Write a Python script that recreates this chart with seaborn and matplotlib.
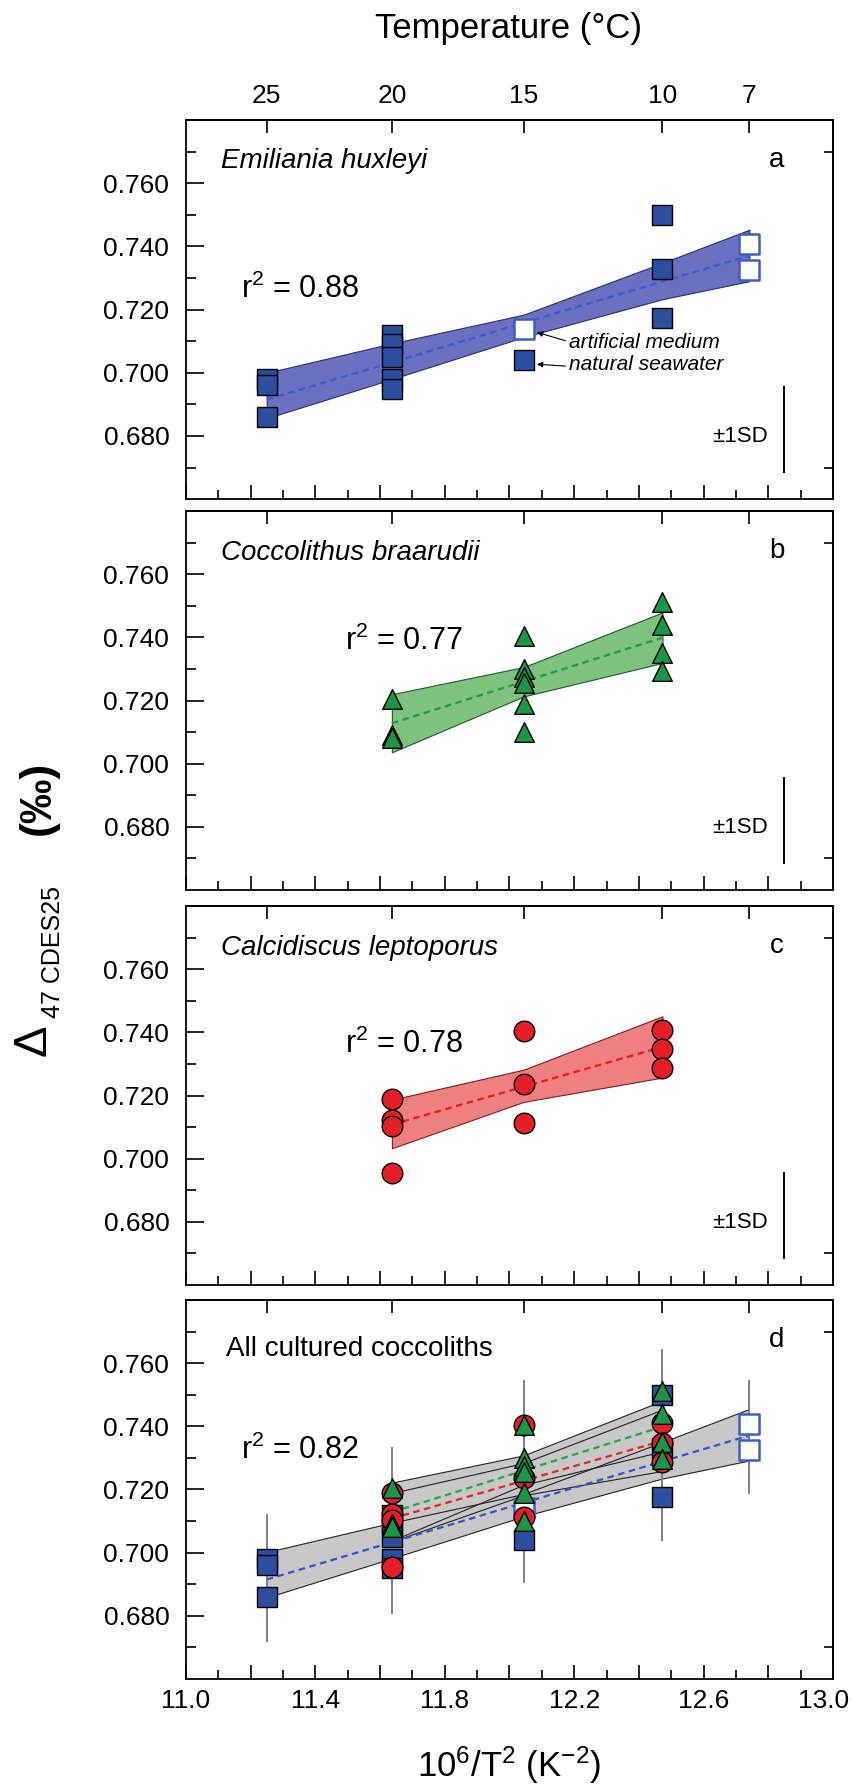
"""
Clumped isotope (D47) vs growth temperature for cultured coccoliths.
Four stacked panels: E. huxleyi, C. braarudii, C. leptoporus and all together.
"""

import numpy as np
import pandas as pd
import matplotlib
matplotlib.use("Agg")
import matplotlib.pyplot as plt
from matplotlib.ticker import FixedLocator, MultipleLocator, FuncFormatter
import seaborn as sns

# --- data ---------------------------------------------------------------
# growth temperature (deg C) and D47 (permil, CDES25)
ehux_temp = [25, 25, 25, 20, 20, 20, 20, 20, 15, 15, 10, 10, 10, 7, 7]
ehux_d47 = [0.698, 0.696, 0.686, 0.712, 0.709, 0.705, 0.698, 0.695,
            0.714, 0.704, 0.750, 0.733, 0.7175, 0.7407, 0.7325]
ehux_medium = ["natural", "natural", "natural", "natural", "natural", "natural",
               "natural", "natural", "artificial", "natural", "natural",
               "natural", "natural", "artificial", "artificial"]

cbra_temp = [20, 20, 20, 15, 15, 15, 15, 15, 15, 10, 10, 10, 10]
cbra_d47 = [0.7205, 0.709, 0.708, 0.7405, 0.730, 0.7275, 0.7255, 0.719,
            0.710, 0.7512, 0.744, 0.7349, 0.7295]

clep_temp = [20, 20, 20, 20, 15, 15, 15, 10, 10, 10]
clep_d47 = [0.719, 0.7122, 0.7103, 0.6954, 0.7403, 0.7237, 0.7114,
            0.7409, 0.7347, 0.7286]

# regression lines and confidence bands at each growth temperature
ehux_fit_temp = [25, 20, 15, 10, 7]
ehux_fit = [0.6915, 0.7033, 0.7158, 0.7289, 0.7371]
ehux_lo = [0.6856, 0.6980, 0.7113, 0.7233, 0.7290]
ehux_hi = [0.7000, 0.7093, 0.7184, 0.7348, 0.7453]

cbra_fit_temp = [20, 15, 10]
cbra_fit = [0.7128, 0.7260, 0.7399]
cbra_lo = [0.7036, 0.7213, 0.7319]
cbra_hi = [0.7220, 0.7306, 0.7479]

clep_fit_temp = [20, 15, 10]
clep_fit = [0.7108, 0.7228, 0.7354]
clep_lo = [0.7033, 0.7180, 0.7257]
clep_hi = [0.7187, 0.7282, 0.7451]

r2_values = ["0.88", "0.77", "0.78", "0.82"]

# grey spread bars of panel d
err_temp = [25, 20, 15, 10, 7]
err_lo = [0.6716, 0.6807, 0.6905, 0.7037, 0.7186]
err_hi = [0.7121, 0.7334, 0.7547, 0.7645, 0.7547]

temp_ticks = [25, 20, 15, 10, 7]

# --- colours --------------------------------------------------------------
BLUE = "#2c4ea0"
BLUE_OPEN = "#3d5fc4"
BLUE_BAND = "#6b70c0"
BLUE_LINE = "#3a5fcd"
GREEN = "#1a9645"
GREEN_BAND = "#7dc37d"
GREEN_LINE = "#22a040"
RED = "#e61e25"
RED_BAND = "#f08080"
RED_LINE = "#e82020"
GREY_BAND = "#c8c8c8"


def t_to_x(t):
    t = np.asarray(t, dtype=float)
    return 1e6 / np.clip(t + 273.15, 1e-3, None) ** 2


def x_to_t(x):
    x = np.clip(np.asarray(x, dtype=float), 1e-6, None)
    return 1e3 / np.sqrt(x) - 273.15


ehux = pd.DataFrame({"x": t_to_x(ehux_temp), "d47": ehux_d47, "medium": ehux_medium})
cbra = pd.DataFrame({"x": t_to_x(cbra_temp), "d47": cbra_d47})
clep = pd.DataFrame({"x": t_to_x(clep_temp), "d47": clep_d47})

sns.set_style("ticks")
plt.rcParams["font.family"] = ["Liberation Sans", "DejaVu Sans"]
plt.rcParams["mathtext.fontset"] = "custom"
plt.rcParams["mathtext.rm"] = "Liberation Sans"
plt.rcParams["mathtext.it"] = "Liberation Sans:italic"
plt.rcParams["axes.edgecolor"] = "black"
plt.rcParams["axes.linewidth"] = 1.3
plt.rcParams["xtick.color"] = "black"
plt.rcParams["ytick.color"] = "black"
plt.rcParams["text.color"] = "black"

fig = plt.figure(figsize=(8.52, 17.85), dpi=100)
bottoms = [0.7204, 0.5014, 0.2801, 0.0594]
axes = [fig.add_axes([0.2183, b, 0.7594, 0.2123]) for b in bottoms]


def xlabel_fmt(v, pos):
    # labels every 0.4 from 11.0; 13.0 is placed by hand so it stays inside
    k = (v - 11.0) / 0.4
    if abs(k - round(k)) < 1e-6 and v < 12.95:
        return f"{v:.1f}"
    return ""


def style_axes(ax, bottom_labels, top_labels):
    ax.set_xlim(11.0, 13.0)
    ax.set_ylim(0.66, 0.78)
    ax.set_xlabel("")
    ax.set_ylabel("")
    for sp in ax.spines.values():
        sp.set_visible(True)
        sp.set_linewidth(1.3)
        sp.set_color("black")

    ax.yaxis.set_major_locator(FixedLocator([0.68, 0.70, 0.72, 0.74, 0.76]))
    ax.yaxis.set_minor_locator(FixedLocator([0.67, 0.69, 0.71, 0.73, 0.75, 0.77]))
    ax.yaxis.set_major_formatter(FuncFormatter(lambda v, p: f"{v:.3f}"))
    ax.tick_params(axis="y", which="major", direction="in", length=13, width=1.2,
                   labelsize=19, pad=12, left=True, right=False)
    ax.tick_params(axis="y", which="minor", direction="in", length=7, width=1.2,
                   left=True, right=False)

    ax.xaxis.set_major_locator(MultipleLocator(0.2))
    ax.xaxis.set_minor_locator(MultipleLocator(0.1))
    ax.xaxis.set_major_formatter(FuncFormatter(xlabel_fmt))
    ax.tick_params(axis="x", which="major", direction="in", length=10, width=1.2,
                   labelsize=19, pad=7, bottom=True, top=False,
                   labelbottom=bottom_labels)
    ax.tick_params(axis="x", which="minor", direction="in", length=6.5, width=1.2,
                   bottom=True, top=False)
    if bottom_labels:
        ax.annotate("13.0", xy=(13.0, 0), xycoords=("data", "axes fraction"),
                    xytext=(-7, -7), textcoords="offset points",
                    ha="center", va="top", fontsize=19)

    top = ax.secondary_xaxis("top", functions=(x_to_t, t_to_x))
    top.set_xticks(temp_ticks)
    top.xaxis.set_major_formatter(FuncFormatter(lambda v, p: f"{v:.0f}"))
    top.tick_params(direction="in", length=9.5, width=1.2, labelsize=19, pad=9,
                    labeltop=top_labels)
    top.spines["top"].set_linewidth(1.3)

    right = ax.secondary_yaxis("right")
    right.set_yticks([0.67, 0.77])
    right.tick_params(direction="in", length=6.5, width=1.2, labelright=False)
    right.spines["right"].set_linewidth(1.3)


def sd_bar(ax):
    ax.vlines(12.847, 0.6683, 0.6957, color="black", lw=1.4, zorder=3)
    ax.text(12.80, 0.678, "\u00b11SD", ha="right", va="baseline", fontsize=16)


def band(ax, temps, lo, hi, face, edge):
    ax.fill_between(t_to_x(temps), lo, hi, facecolor=face, edgecolor=edge,
                    linewidth=0.8, zorder=1)


def fit_line(ax, temps, fit, color):
    sns.lineplot(x=t_to_x(temps), y=fit, ax=ax, color=color, lw=1.6,
                 linestyle=(0, (3, 2)), zorder=2)


def squares(ax, df, face, edge, lw, z=4):
    sns.scatterplot(data=df, x="x", y="d47", marker="s", s=190, color=face,
                    edgecolor=edge, linewidth=lw, ax=ax, legend=False, zorder=z)


def triangles(ax, df, z=4):
    sns.scatterplot(data=df, x="x", y="d47", marker="^", s=200, color=GREEN,
                    edgecolor="black", linewidth=1.0, ax=ax, legend=False, zorder=z)


def circles(ax, df, z=4):
    sns.scatterplot(data=df, x="x", y="d47", marker="o", s=220, color=RED,
                    edgecolor="black", linewidth=1.0, ax=ax, legend=False, zorder=z)


nat = ehux[ehux["medium"] == "natural"]
art = ehux[ehux["medium"] == "artificial"]

# --- a: Emiliania huxleyi -------------------------------------------------
ax = axes[0]
band(ax, ehux_fit_temp, ehux_lo, ehux_hi, BLUE_BAND, "#2a2f70")
fit_line(ax, ehux_fit_temp, ehux_fit, BLUE_LINE)
squares(ax, nat, BLUE, "black", 1.0)
squares(ax, art, "white", BLUE_OPEN, 1.8)
ax.text(11.107, 0.7648, "Emiliania huxleyi", style="italic", fontsize=20, va="baseline")
ax.text(12.827, 0.7652, "a", fontsize=20, ha="center", va="baseline")
ax.text(11.17, 0.7238, "r$^2$ = " + r2_values[0], fontsize=22, va="baseline")
ax.annotate("artificial medium", xy=(12.085, 0.7128), xytext=(12.183, 0.7078),
            fontsize=15, style="italic", va="baseline",
            arrowprops=dict(arrowstyle="-|>", lw=0.8, color="black",
                            mutation_scale=8, shrinkA=0, shrinkB=0,
                            relpos=(0.0, 0.55)))
ax.annotate("natural seawater", xy=(12.085, 0.7027), xytext=(12.183, 0.7009),
            fontsize=15, style="italic", va="baseline",
            arrowprops=dict(arrowstyle="-|>", lw=0.8, color="black",
                            mutation_scale=8, shrinkA=0, shrinkB=0,
                            relpos=(0.0, 0.4)))
sd_bar(ax)
style_axes(ax, bottom_labels=False, top_labels=True)

# --- b: Coccolithus braarudii ---------------------------------------------
ax = axes[1]
band(ax, cbra_fit_temp, cbra_lo, cbra_hi, GREEN_BAND, "#1f5a2a")
fit_line(ax, cbra_fit_temp, cbra_fit, GREEN_LINE)
triangles(ax, cbra)
ax.text(11.107, 0.7645, "Coccolithus braarudii", style="italic", fontsize=20, va="baseline")
ax.text(12.827, 0.7652, "b", fontsize=20, ha="center", va="baseline")
ax.text(11.492, 0.7361, "r$^2$ = " + r2_values[1], fontsize=22, va="baseline")
sd_bar(ax)
style_axes(ax, bottom_labels=False, top_labels=False)

# --- c: Calcidiscus leptoporus --------------------------------------------
ax = axes[2]
band(ax, clep_fit_temp, clep_lo, clep_hi, RED_BAND, "#7a2020")
fit_line(ax, clep_fit_temp, clep_fit, RED_LINE)
circles(ax, clep)
ax.text(11.107, 0.7645, "Calcidiscus leptoporus", style="italic", fontsize=20, va="baseline")
ax.text(12.827, 0.7652, "c", fontsize=20, ha="center", va="baseline")
ax.text(11.492, 0.7336, "r$^2$ = " + r2_values[2], fontsize=22, va="baseline")
sd_bar(ax)
style_axes(ax, bottom_labels=False, top_labels=False)

# --- d: all cultured coccoliths -------------------------------------------
ax = axes[3]
bands = [(ehux_fit_temp, ehux_lo, ehux_hi),
         (cbra_fit_temp, cbra_lo, cbra_hi),
         (clep_fit_temp, clep_lo, clep_hi)]
for temps, lo, hi in bands:
    ax.fill_between(t_to_x(temps), lo, hi, facecolor=GREY_BAND,
                    edgecolor="none", zorder=1)
for temps, lo, hi in bands:
    ax.fill_between(t_to_x(temps), lo, hi, facecolor="none",
                    edgecolor="#222222", linewidth=0.8, zorder=1.5)
fit_line(ax, ehux_fit_temp, ehux_fit, "#3355cc")
fit_line(ax, cbra_fit_temp, cbra_fit, "#22aa44")
fit_line(ax, clep_fit_temp, clep_fit, "#ee2222")
ax.vlines(t_to_x(err_temp), err_lo, err_hi, color="#808080", lw=1.4, zorder=3)
squares(ax, nat, BLUE, "black", 1.0, z=4)
squares(ax, art, "white", BLUE_OPEN, 1.8, z=4)
circles(ax, clep, z=5)
triangles(ax, cbra, z=6)
ax.text(11.124, 0.7622, "All cultured coccoliths", fontsize=20, va="baseline")
ax.text(12.827, 0.7652, "d", fontsize=20, ha="center", va="baseline")
ax.text(11.17, 0.7297, "r$^2$ = " + r2_values[3], fontsize=22, va="baseline")
style_axes(ax, bottom_labels=True, top_labels=False)

# --- figure-level labels --------------------------------------------------
fig.text(0.5974, 0.9843, "Temperature (\u00b0C)", ha="center", va="center", fontsize=25)
fig.text(0.5974, 0.0048, "10$^6$/T$^2$ (K$^{-2}$)", ha="center", va="baseline", fontsize=25)
fig.text(0.0400, 0.4174, "\u0394", rotation=90, ha="center", va="center", fontsize=34)
fig.text(0.0620, 0.4666, "47 CDES25", rotation=90, ha="center", va="center", fontsize=18)
fig.text(0.0450, 0.5529, "(\u2030)", rotation=90, ha="center", va="center",
         fontsize=32, fontweight="bold")

fig.savefig("out.png", dpi=100)
plt.close(fig)
